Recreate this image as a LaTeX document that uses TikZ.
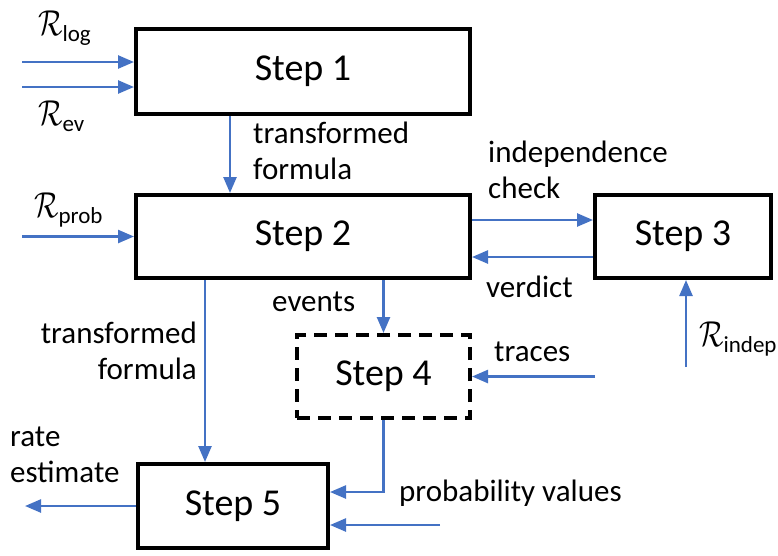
\documentclass[tikz,border=0pt]{standalone}
\usepackage{fix-cm}
\usepackage{graphicx}
\usepackage{fontspec}
\setmainfont{Carlito}
\usetikzlibrary{arrows.meta}

\definecolor{flowblue}{HTML}{4472C4}
\newcommand{\Rlab}[1]{{\fontsize{36}{36}\selectfont\scalebox{0.8}[1]{$\mathcal{R}$}}{\fontsize{23}{23}\selectfont\raisebox{-6pt}{#1}}}

\begin{document}
\begin{tikzpicture}[x=1pt,y=-1pt,
  stepbox/.style={draw,line width=4pt,inner sep=0pt,minimum height=83pt,font=\fontsize{38}{38}\selectfont},
  flow/.style={draw=flowblue,line width=2.5pt,-{Triangle[length=16pt,width=13pt]}},
  lab/.style={inner sep=0pt,font=\fontsize{31}{36}\selectfont}]

\useasboundingbox (0,0) rectangle (778,555);

\node[stepbox,minimum width=334pt,minimum height=85pt] (s1) at (303,71.5) {Step 1};
\node[stepbox,minimum width=334pt] (s2) at (303,236.5) {Step 2};
\node[stepbox,minimum width=176pt] (s3) at (683,236.5) {Step 3};
\node[stepbox,minimum width=173pt,dash pattern=on 13pt off 8pt] (s4) at (383.5,376.5) {Step 4};
\node[stepbox,minimum width=190pt,minimum height=84pt] (s5) at (233,506) {Step 5};

\coordinate (rlog) at (22,62);
\coordinate (rev) at (22,87);
\coordinate (rprob) at (22,236.5);
\coordinate (rindep) at (686,367);
\coordinate (traces) at (595,376.5);
\coordinate (probv) at (440,525);
\coordinate (rate) at (25,506);
\coordinate (t5) at ([xshift=-28pt]s5.north);

\draw[flow] (rlog) -- ([yshift=9.5pt]s1.west);
\draw[flow] (rev) -- ([yshift=-15.5pt]s1.west);
\draw[flow] ([xshift=-73pt]s1.south) -- ([xshift=-73pt]s2.north);
\draw[flow] (rprob) -- (s2.west);
\draw[flow] ([yshift=16.5pt]s2.east) -- ([yshift=16.5pt]s3.west);
\draw[flow] ([yshift=-20.5pt]s3.west) -- ([yshift=-20.5pt]s2.east);
\draw[flow] (rindep) -- (rindep |- s3.south);
\draw[flow] (s2.south -| s4.north) -- (s4.north);
\draw[flow] (t5 |- s2.south) -- (t5);
\draw[flow] (traces) -- (traces -| s4.east);
\draw[flow] (s4.south) |- ([yshift=14pt]s5.east);
\draw[flow] (probv) -- (probv -| s5.east);
\draw[flow] (s5.west) -- (rate);

\node[lab,anchor=base west] (lrlog) at (38,35) {\Rlab{log}};
\node[lab,anchor=base west] (lrev) at (38,125) {\Rlab{ev}};
\node[lab,anchor=base west] (lrprob) at (34,217) {\Rlab{prob}};
\node[lab,anchor=base west] (lrindep) at (699,346) {\Rlab{indep}};
\node[lab,anchor=north west,align=left] (ltf1) at (253,122) {transformed\\formula};
\node[lab,anchor=north west,align=left] (lcheck) at (488,141) {independence\\check};
\node[lab,anchor=base west] (lverdict) at (486,297) {verdict};
\node[lab,anchor=base west] (levents) at (272,311) {events};
\node[lab,anchor=north east,align=right] (ltf2) at (197,322) {transformed\\formula};
\node[lab,anchor=base west] (ltraces) at (494,361) {traces};
\node[lab,anchor=base west] (lprobv) at (399,501) {probability values};
\node[lab,anchor=north west,align=left] (lrate) at (10,427) {rate\\estimate};
\end{tikzpicture}
\end{document}
